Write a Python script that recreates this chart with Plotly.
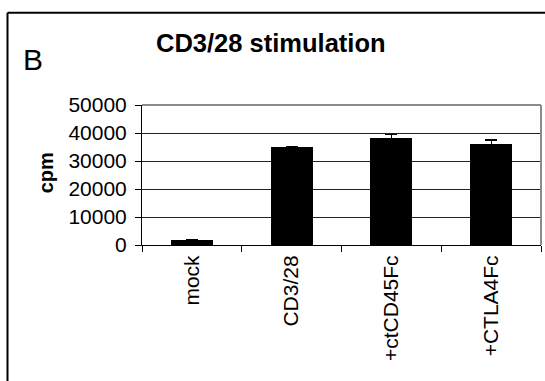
import plotly.graph_objects as go

# Proliferation readout (cpm) per condition
conditions = ["mock", "CD3/28", "+ctCD45Fc", "+CTLA4Fc"]
cpm_mean = [1700, 35000, 38200, 36100]
cpm_err = [300, 100, 1400, 1400]
y_ticks = [0, 10000, 20000, 30000, 40000, 50000]

W, H = 545, 381
L, R, T, B = 142, 4, 105, 135.5
pw, ph = W - L - R, H - T - B


def px(x):
    return (x - L) / pw


def py(y):
    return (H - B - y) / ph


FONT = "Arial, Liberation Sans, sans-serif"

fig = go.Figure(
    go.Bar(
        x=conditions,
        y=cpm_mean,
        width=0.42,
        marker=dict(color="black", line=dict(width=0)),
        error_y=dict(type="data", array=cpm_err, color="black",
                     thickness=1.2, width=6),
    )
)

fig.update_layout(
    width=W, height=H,
    margin=dict(l=L, r=R, t=T, b=B, pad=0),
    paper_bgcolor="white", plot_bgcolor="white",
    showlegend=False,
    font=dict(family=FONT, size=21, color="black"),
    bargap=0,
)

fig.update_xaxes(
    range=[-0.5, 3.5],
    tickangle=-90,
    ticks="outside", ticklen=6, tickcolor="black", tickwidth=1,
    tickson="boundaries",
    showline=True, linecolor="black", linewidth=1,
    showgrid=False,
    tickfont=dict(family=FONT, size=21, color="black"),
    ticklabelstandoff=1,
)

fig.update_yaxes(
    range=[0, 50000],
    tickvals=y_ticks,
    ticktext=[str(v) for v in y_ticks],
    ticks="outside", ticklen=6, tickcolor="black", tickwidth=1,
    showline=True, linecolor="black", linewidth=1,
    showgrid=True, gridcolor="#222222", gridwidth=1,
    zeroline=False,
    tickfont=dict(family=FONT, size=21, color="black"),
    ticklabelstandoff=4,
)

shapes = [
    # grey plot-area frame on top and right
    dict(type="line", xref="paper", yref="paper", x0=0, x1=1, y0=1, y1=1,
         line=dict(color="#8c8c8c", width=2), layer="above"),
    dict(type="line", xref="paper", yref="paper", x0=1, x1=1, y0=0, y1=1,
         line=dict(color="#8c8c8c", width=2), layer="above"),
    # outer panel border (top and left)
    dict(type="line", xref="paper", yref="paper",
         x0=px(7.5), x1=px(W + 5), y0=py(12.5), y1=py(12.5),
         line=dict(color="black", width=2)),
    dict(type="line", xref="paper", yref="paper",
         x0=px(7.5), x1=px(7.5), y0=py(12.5), y1=py(H + 5),
         line=dict(color="black", width=2)),
]
fig.update_layout(shapes=shapes)

fig.add_annotation(text="<b>CD3/28 stimulation</b>", xref="paper", yref="paper",
                   x=px(271), y=py(43), xanchor="center", yanchor="middle",
                   showarrow=False, font=dict(family=FONT, size=25.5, color="black"))
fig.add_annotation(text="B", xref="paper", yref="paper",
                   x=px(33), y=py(59.5), xanchor="center", yanchor="middle",
                   showarrow=False, font=dict(family=FONT, size=30, color="black"))
fig.add_annotation(text="<b>cpm</b>", xref="paper", yref="paper",
                   x=px(45.5), y=py(173), xanchor="center", yanchor="middle",
                   textangle=-90, showarrow=False,
                   font=dict(family=FONT, size=20, color="black"))

fig.write_html("out.html")
